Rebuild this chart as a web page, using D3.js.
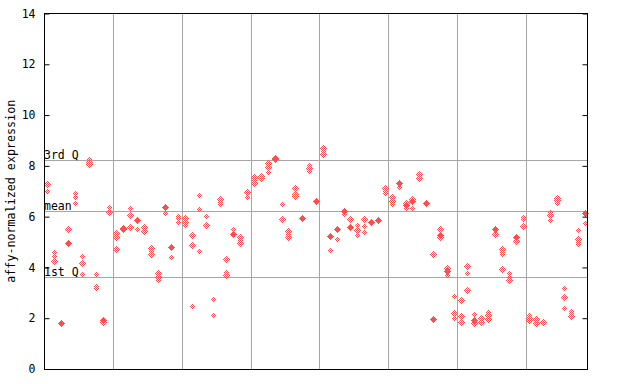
<!DOCTYPE html>
<html><head><meta charset="utf-8">
<script src="https://cdn.jsdelivr.net/npm/d3@7"></script>
<style>body{margin:0;background:#fff}svg{display:block}</style>
</head><body>
<script>
// ---- data ----
const hollowValues = [
 [7.28,7.0],[4.62,4.45,4.25],[],[5.51],[6.94,6.78,6.52],[4.44,4.16,3.74],[8.26,8.16,8.06],[3.73,3.28,3.2],[1.85],[6.39,6.19],
 [5.34,5.19,4.71],[5.55],[6.34,6.06,5.58],[5.51],[5.58,5.45,5.41],[4.75,4.65,4.53],[3.77,3.63,3.5],[6.13],[4.41],[6.04,5.93,5.8],
 [5.93,5.8,5.67],[5.26,4.87,2.47],[6.84,6.29,4.63],[6.04,5.72,5.67],[2.74,2.11],[6.68,6.59,6.5],[4.32,3.81,3.7],[5.51],[5.19,5.08,4.95],[6.97,6.78],
 [7.55,7.44,7.33],[7.62,7.52,7.48],[8.12,7.96,7.74],[8.3],[6.5,5.89],[5.43,5.3,5.19],[7.11,6.89,6.81],[],[8.03,7.93,7.81],[],
 [8.69,8.58,8.45],[4.67],[5.11],[6.09],[5.89],[5.66,5.47,5.26],[5.92,5.63,5.41],[],[],[7.11,7.02,6.94],
 [6.78,6.6,6.5],[7.15],[6.55,6.35],[6.7,6.35],[7.69,7.51],[],[4.52],[5.5,5.19],[3.99,3.71],[2.86,2.19,2.0],
 [2.7,2.07,1.86],[4.04,3.77,3.1],[2.17,1.8],[2.0,1.86,1.8],[2.26,2.13,1.96],[5.3],[4.72,4.62,4.54,3.93],[3.77,3.63,3.5],[5.03],[6.0,5.92,5.62],
 [2.11,2.02,1.93],[1.96,1.8],[1.84],[6.18,6.05,5.87],[6.73,6.65,6.55],[3.18,2.82,2.39],[2.28,2.19,2.1],[5.46,5.11,5.01,4.93],[5.74]
];
const solidValues = [
 [],[],[1.80],[4.97],[],[],[],[],[1.93],[],
 [],[5.50],[],[5.85],[],[],[],[6.38],[4.82],[],
 [],[],[],[],[],[],[],[5.33],[],[],
 [],[],[],[8.26],[],[],[],[5.93],[],[6.63],
 [],[5.24],[5.52],[6.21],[5.6],[],[],[5.78],[5.85],[],
 [],[7.33],[6.46],[6.61],[],[6.52],[1.97],[5.28],[3.85],[],
 [],[],[1.93],[],[],[5.5],[],[],[5.21],[],
 [],[],[],[],[],[],[],[],[6.14]
];
const samples = hollowValues.map((d,i)=>"s"+(i+1));
const groupSize = 10;
const yTicks = [0,2,4,6,8,10,12,14];
const refLines = [{label:"3rd Q", value:8.23},{label:"mean", value:6.21},{label:"1st Q", value:3.61}];
const yTitle = "affy-normalized expression";

// ---- layout ----
const W=640,H=384, pL=44, pR=588, pT=13.5, pB=369;
const red="#ff4d4d", grid="#a6a6a6";
const svg=d3.select("body").append("svg").attr("width",W).attr("height",H);
const defs=svg.append("defs");
const pat=defs.append("pattern").attr("id","chk").attr("patternUnits","userSpaceOnUse")
  .attr("width",2).attr("height",2);
pat.append("rect").attr("x",0).attr("y",0).attr("width",1).attr("height",1).attr("fill",red);
pat.append("rect").attr("x",1).attr("y",1).attr("width",1).attr("height",1).attr("fill",red);

const x=d3.scaleBand().domain(samples).range([pL,pR]).padding(0);
const y=d3.scaleLinear().domain([0,14]).range([pB,pT]);
const font="'DejaVu Sans Mono', monospace";
const fs=11.5;

// vertical group lines
const bounds=[];
for(let i=groupSize;i<samples.length;i+=groupSize) bounds.push(samples[i]);
svg.append("g").selectAll("line").data(bounds).join("line")
  .attr("x1",d=>Math.round(x(d))+0.5).attr("x2",d=>Math.round(x(d))+0.5)
  .attr("y1",pT).attr("y2",pB).attr("stroke",grid).attr("stroke-width",1);
// reference lines
svg.append("g").selectAll("line").data(refLines).join("line")
  .attr("x1",pL).attr("x2",pR)
  .attr("y1",d=>Math.round(y(d.value))+0.5).attr("y2",d=>Math.round(y(d.value))+0.5)
  .attr("stroke",grid).attr("stroke-width",1);
svg.append("g").selectAll("text").data(refLines).join("text")
  .attr("x",pL).attr("y",d=>Math.round(y(d.value))-1)
  .attr("font-family",font).attr("font-size",fs).attr("fill","#000").text(d=>d.label);

// points
const diamond=(cx,cy,r)=>`M${cx},${cy-r}L${cx+r},${cy}L${cx},${cy+r}L${cx-r},${cy}Z`;
const pts=[];
samples.forEach((s,i)=>{
  hollowValues[i].forEach(v=>pts.push({s,v,solid:false}));
  solidValues[i].forEach(v=>pts.push({s,v,solid:true}));
});
svg.append("g").selectAll("path").data(pts).join("path")
  .attr("d",d=>{const cx=Math.round(x(d.s)+x.bandwidth()/2)+0.5, cy=Math.round(y(d.v))+0.5; return diamond(cx,cy,3.5);})
  .attr("fill",d=>d.solid?red:"url(#chk)")
  .attr("shape-rendering","crispEdges");

// frame
svg.append("rect").attr("x",pL+0.5).attr("y",pT).attr("width",pR-pL-1).attr("height",pB-pT+0.5)
  .attr("fill","none").attr("stroke","#000").attr("stroke-width",1);

// y axis ticks left (inward) and right (inward)
const axL=d3.axisLeft(y).tickValues(yTicks).tickSize(-5).tickPadding(9).tickFormat(d3.format("d"));
const gL=svg.append("g").attr("transform",`translate(${pL+0.5},0)`).call(axL);
gL.select(".domain").remove();
gL.selectAll("text").attr("font-family",font).attr("font-size",fs).attr("fill","#000");
gL.selectAll("line").attr("stroke","#000");
const axR=d3.axisRight(y).tickValues(yTicks).tickSize(-5).tickFormat("");
const gR=svg.append("g").attr("transform",`translate(${pR-0.5},0)`).call(axR);
gR.select(".domain").remove();
gR.selectAll("line").attr("stroke","#000");

// y title
svg.append("text").attr("transform",`translate(15,${(pT+pB)/2}) rotate(-90)`)
  .attr("text-anchor","middle").attr("font-family",font).attr("font-size",11.7).attr("fill","#000")
  .text(yTitle);
</script>
</body></html>
